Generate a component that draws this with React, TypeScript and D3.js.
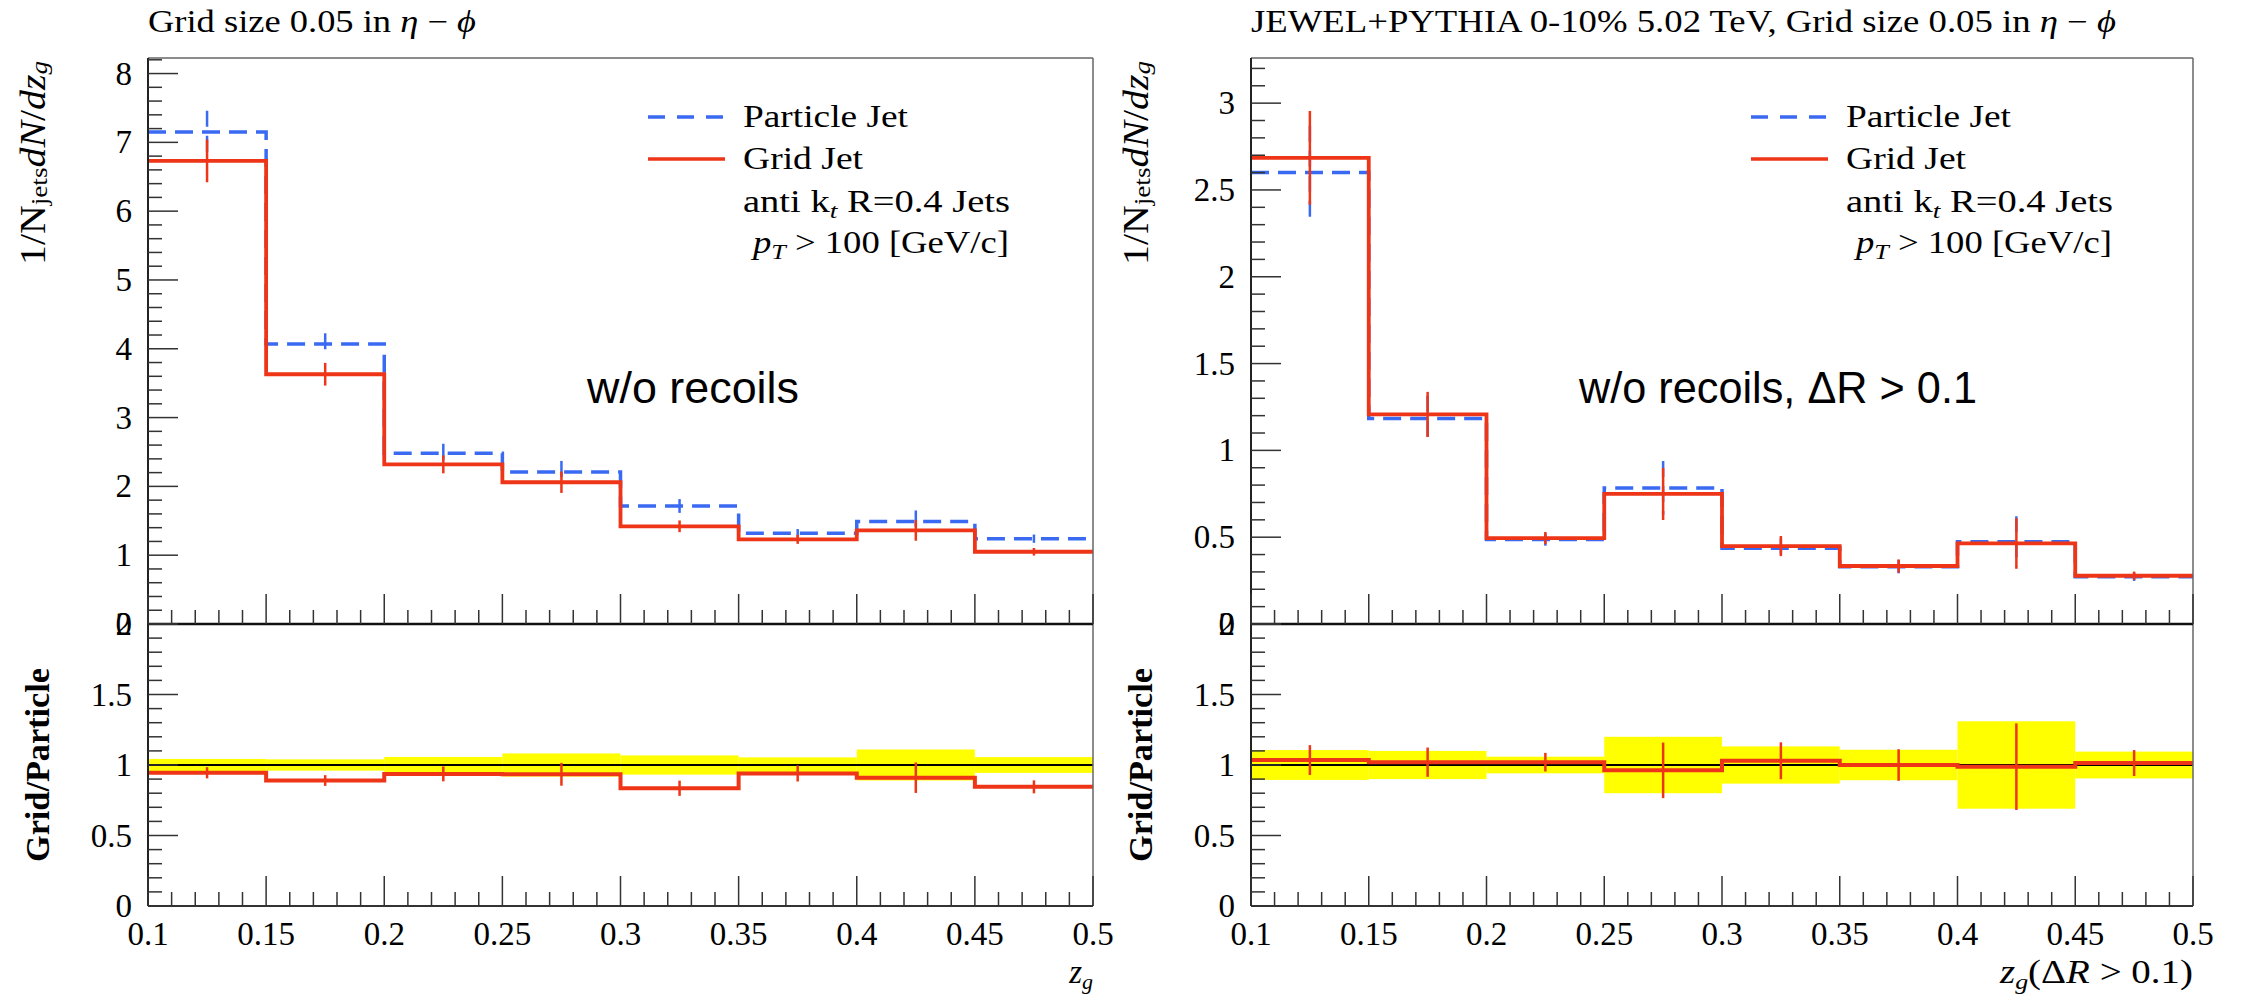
import React from 'react';
import * as d3 from 'd3';

// ---------- data ----------
const binEdges = [0.1, 0.15, 0.2, 0.25, 0.3, 0.35, 0.4, 0.45, 0.5];
const xTickLabels = ['0.1', '0.15', '0.2', '0.25', '0.3', '0.35', '0.4', '0.45', '0.5'];

const leftParticle = [7.15, 4.07, 2.48, 2.21, 1.715, 1.32, 1.49, 1.24];
const leftParticleErr = [0.31, 0.155, 0.14, 0.16, 0.1, 0.06, 0.16, 0.06];
const leftGrid = [6.73, 3.63, 2.32, 2.06, 1.42, 1.23, 1.36, 1.05];
const leftGridErr = [0.31, 0.165, 0.13, 0.155, 0.085, 0.065, 0.15, 0.055];
const leftRatio = [0.945, 0.89, 0.937, 0.934, 0.835, 0.94, 0.91, 0.845];
const leftRatioErr = [0.04, 0.038, 0.053, 0.081, 0.054, 0.057, 0.108, 0.046];
const leftBand = [0.043, 0.04, 0.057, 0.082, 0.068, 0.054, 0.11, 0.056];
const leftYTicks = ['0', '1', '2', '3', '4', '5', '6', '7', '8'];

const rightParticle = [2.6, 1.184, 0.486, 0.784, 0.436, 0.33, 0.474, 0.272];
const rightParticleErr = [0.27, 0.13, 0.035, 0.155, 0.058, 0.038, 0.146, 0.024];
const rightGrid = [2.685, 1.207, 0.495, 0.749, 0.449, 0.334, 0.464, 0.278];
const rightGridErr = [0.27, 0.13, 0.035, 0.15, 0.058, 0.038, 0.146, 0.024];
const rightRatio = [1.035, 1.02, 1.02, 0.962, 1.03, 1.0, 0.988, 1.014];
const rightRatioErr = [0.106, 0.104, 0.066, 0.197, 0.131, 0.112, 0.307, 0.092];
const rightBand = [0.106, 0.1, 0.059, 0.2, 0.132, 0.108, 0.31, 0.095];
const rightYTicks = ['0', '0.5', '1', '1.5', '2', '2.5', '3'];

const ratioYTicks = ['0', '0.5', '1', '1.5', '2'];

// ---------- style ----------
const BLUE = '#3a6af2';
const RED = '#ee3517';
const YELLOW = '#ffff00';
const SERIF = '"Liberation Serif", "Times New Roman", serif';
const SANS = '"Liberation Sans", Arial, sans-serif';

const Y_TOP = 58;
const Y_SPLIT = 624;
const Y_BOT = 906;

type PanelProps = {
  x0: number;
  x1: number;
  yMax: number;
  yMajor: number;
  yMinor: number;
  yTickLabels: string[];
  particle: number[];
  particleErr: number[];
  grid: number[];
  gridErr: number[];
  ratio: number[];
  ratioErr: number[];
  band: number[];
  title: React.ReactNode;
  titleLen: number;
  xTitle: React.ReactNode;
  xTitleLen?: number;
  note: string;
  noteX: number;
  noteLen: number;
};

function range(start: number, stop: number, step: number) {
  const out: number[] = [];
  const n = Math.floor((stop - start) / step + 1e-6);
  for (let i = 0; i <= n; i++) out.push(+(start + i * step).toFixed(6));
  return out;
}

function Panel(p: PanelProps) {
  const x = d3.scaleLinear().domain([0.1, 0.5]).range([p.x0, p.x1]);
  const yT = d3.scaleLinear().domain([0, p.yMax]).range([Y_SPLIT, Y_TOP]);
  const yR = d3.scaleLinear().domain([0, 2]).range([Y_BOT, Y_SPLIT]);

  const step = (ys: d3.ScaleLinear<number, number>, vals: number[]) =>
    d3
      .line<number>()
      .x((_, i) => x(binEdges[i]))
      .y((v) => ys(v))
      .curve(d3.curveStepAfter)([...vals, vals[vals.length - 1]]) || '';

  const centers = binEdges.slice(0, -1).map((e, i) => (e + binEdges[i + 1]) / 2);

  const yMajorTicks = range(0, p.yMax, p.yMajor);
  const yMinorTicks = range(0, p.yMax, p.yMinor).filter(
    (v) => Math.abs(v / p.yMajor - Math.round(v / p.yMajor)) > 1e-4
  );
  const rMajor = range(0, 2, 0.5);
  const rMinor = range(0, 2, 0.1).filter((v) => Math.abs(v / 0.5 - Math.round(v / 0.5)) > 1e-4);
  const xMajor = range(0.1, 0.5, 0.05);
  const xMinor = range(0.1, 0.5, 0.01).filter((v) => Math.abs(v / 0.05 - Math.round(v / 0.05)) > 1e-4);

  const tickCol = '#333';
  const MAJ = 30;
  const MIN = 14;
  const TF = 33;

  return (
    <g>
      {/* title */}
      <text x={p.x0} y={32} fontFamily={SERIF} fontSize={31} textLength={p.titleLen} lengthAdjust="spacingAndGlyphs">
        {p.title}
      </text>

      {/* ratio band */}
      {p.band.map((b, i) => (
        <rect
          key={'b' + i}
          x={x(binEdges[i])}
          width={x(binEdges[i + 1]) - x(binEdges[i])}
          y={yR(1 + b)}
          height={yR(1 - b) - yR(1 + b)}
          fill={YELLOW}
        />
      ))}
      <line x1={p.x0} x2={p.x1} y1={yR(1)} y2={yR(1)} stroke="#000" strokeWidth={2} />

      {/* top panel histograms */}
      <path d={step(yT, p.particle)} fill="none" stroke={BLUE} strokeWidth={3.5} strokeDasharray="18 9" />
      {centers.map((c, i) => (
        <line
          key={'pe' + i}
          x1={x(c)}
          x2={x(c)}
          y1={yT(p.particle[i] + p.particleErr[i])}
          y2={yT(p.particle[i] - p.particleErr[i])}
          stroke={BLUE}
          strokeWidth={2.5}
          strokeDasharray="16 9"
        />
      ))}
      <path d={step(yT, p.grid)} fill="none" stroke={RED} strokeWidth={3.8} />
      {centers.map((c, i) => (
        <line
          key={'ge' + i}
          x1={x(c)}
          x2={x(c)}
          y1={yT(p.grid[i] + p.gridErr[i])}
          y2={yT(p.grid[i] - p.gridErr[i])}
          stroke={RED}
          strokeWidth={2.5}
        />
      ))}

      {/* ratio */}
      <path d={step(yR, p.ratio)} fill="none" stroke={RED} strokeWidth={4} />
      {centers.map((c, i) => (
        <line
          key={'re' + i}
          x1={x(c)}
          x2={x(c)}
          y1={yR(p.ratio[i] + p.ratioErr[i])}
          y2={yR(p.ratio[i] - p.ratioErr[i])}
          stroke={RED}
          strokeWidth={2.5}
        />
      ))}

      {/* frames */}
      <line x1={p.x0} x2={p.x1} y1={Y_TOP} y2={Y_TOP} stroke="#666" strokeWidth={1.5} />
      <line x1={p.x1} x2={p.x1} y1={Y_TOP} y2={Y_BOT} stroke="#666" strokeWidth={1.5} />
      <line x1={p.x0} x2={p.x0} y1={Y_TOP} y2={Y_BOT} stroke="#222" strokeWidth={2} />
      <line x1={p.x0} x2={p.x1} y1={Y_SPLIT} y2={Y_SPLIT} stroke="#111" strokeWidth={2.5} />
      <line x1={p.x0} x2={p.x1} y1={Y_BOT} y2={Y_BOT} stroke="#333" strokeWidth={2} />

      {/* y ticks top */}
      {yMajorTicks.map((v, i) => (
        <g key={'ytm' + i}>
          <line x1={p.x0} x2={p.x0 + MAJ} y1={yT(v)} y2={yT(v)} stroke={tickCol} strokeWidth={1.5} />
          <text
            x={p.x0 - 16}
            y={yT(v)}
            textAnchor="end"
            dominantBaseline="central"
            fontFamily={SERIF}
            fontSize={TF}
          >
            {p.yTickLabels[i]}
          </text>
        </g>
      ))}
      {yMinorTicks.map((v, i) => (
        <line key={'ytn' + i} x1={p.x0} x2={p.x0 + MIN} y1={yT(v)} y2={yT(v)} stroke={tickCol} strokeWidth={1.5} />
      ))}

      {/* y ticks ratio */}
      {rMajor.map((v, i) => (
        <g key={'rm' + i}>
          <line x1={p.x0} x2={p.x0 + MAJ} y1={yR(v)} y2={yR(v)} stroke={tickCol} strokeWidth={1.5} />
          <text
            x={p.x0 - 16}
            y={yR(v)}
            textAnchor="end"
            dominantBaseline="central"
            fontFamily={SERIF}
            fontSize={TF}
          >
            {ratioYTicks[i]}
          </text>
        </g>
      ))}
      {rMinor.map((v, i) => (
        <line key={'rn' + i} x1={p.x0} x2={p.x0 + MIN} y1={yR(v)} y2={yR(v)} stroke={tickCol} strokeWidth={1.5} />
      ))}

      {/* x ticks */}
      {[Y_SPLIT, Y_BOT].map((yy) => (
        <g key={'xt' + yy}>
          {xMajor.map((v, i) => (
            <line key={'xm' + i} x1={x(v)} x2={x(v)} y1={yy} y2={yy - MAJ} stroke={tickCol} strokeWidth={1.5} />
          ))}
          {xMinor.map((v, i) => (
            <line key={'xn' + i} x1={x(v)} x2={x(v)} y1={yy} y2={yy - MIN} stroke={tickCol} strokeWidth={1.5} />
          ))}
        </g>
      ))}
      {xMajor.map((v, i) => (
        <text key={'xl' + i} x={x(v)} y={945} textAnchor="middle" fontFamily={SERIF} fontSize={TF}>
          {xTickLabels[i]}
        </text>
      ))}

      {/* axis titles */}
      <text
        x={p.x1}
        y={983}
        textAnchor="end"
        fontFamily={SERIF}
        fontSize={33}
        textLength={p.xTitleLen}
        lengthAdjust={p.xTitleLen ? 'spacingAndGlyphs' : undefined}
      >
        {p.xTitle}
      </text>
      <text
        transform={`translate(${p.x0 - 115},61) rotate(-90)`}
        textAnchor="end"
        dominantBaseline="central"
        fontFamily={SERIF}
        fontSize={35}
        textLength={204}
        lengthAdjust="spacingAndGlyphs"
      >
        <tspan>1/N</tspan>
        <tspan fontSize={24} dy={6}>jets</tspan>
        <tspan dy={-6} fontStyle="italic">dN</tspan>
        <tspan>/</tspan>
        <tspan fontStyle="italic">dz</tspan>
        <tspan fontSize={24} dy={6} fontStyle="italic">g</tspan>
      </text>
      <text
        transform={`translate(${p.x0 - 111},668) rotate(-90)`}
        textAnchor="end"
        dominantBaseline="central"
        fontFamily={SERIF}
        fontWeight="bold"
        fontSize={34}
        textLength={194}
        lengthAdjust="spacingAndGlyphs"
      >
        Grid/Particle
      </text>

      {/* legend */}
      <line x1={p.x0 + 500} x2={p.x0 + 577} y1={117} y2={117} stroke={BLUE} strokeWidth={3.5} strokeDasharray="17 12" />
      <line x1={p.x0 + 500} x2={p.x0 + 577} y1={159} y2={159} stroke={RED} strokeWidth={3.5} />
      <text x={p.x0 + 595} y={127} fontFamily={SERIF} fontSize={31} textLength={165} lengthAdjust="spacingAndGlyphs">
        Particle Jet
      </text>
      <text x={p.x0 + 595} y={169} fontFamily={SERIF} fontSize={31} textLength={120} lengthAdjust="spacingAndGlyphs">
        Grid Jet
      </text>
      <text x={p.x0 + 595} y={212} fontFamily={SERIF} fontSize={31} textLength={267} lengthAdjust="spacingAndGlyphs">
        anti k<tspan fontSize={22} dy={6} fontStyle="italic">t</tspan>
        <tspan dy={-6}> R=0.4 Jets</tspan>
      </text>
      <text x={p.x0 + 605} y={253} fontFamily={SERIF} fontSize={31} textLength={256} lengthAdjust="spacingAndGlyphs">
        <tspan fontStyle="italic">p</tspan>
        <tspan fontSize={22} dy={6} fontStyle="italic">T</tspan>
        <tspan dy={-6}> {'>'} 100 [GeV/c]</tspan>
      </text>

      {/* annotation */}
      <text x={p.noteX} y={403} fontFamily={SANS} fontSize={45} textLength={p.noteLen} lengthAdjust="spacingAndGlyphs">
        {p.note}
      </text>
    </g>
  );
}

export default function App() {
  return (
    <svg
      width={2244}
      height={994}
      viewBox="0 0 2244 994"
      style={{ position: 'absolute', left: 0, top: 0, background: '#fff' }}
    >
      <rect width={2244} height={994} fill="#fff" />
      <Panel
        x0={148}
        x1={1093}
        yMax={8.226}
        yMajor={1}
        yMinor={0.2}
        yTickLabels={leftYTicks}
        particle={leftParticle}
        particleErr={leftParticleErr}
        grid={leftGrid}
        gridErr={leftGridErr}
        ratio={leftRatio}
        ratioErr={leftRatioErr}
        band={leftBand}
        title={
          <>
            Grid size 0.05 in <tspan fontStyle="italic">η</tspan> − <tspan fontStyle="italic">ϕ</tspan>
          </>
        }
        titleLen={328}
        xTitle={
          <>
            <tspan fontStyle="italic">z</tspan>
            <tspan fontStyle="italic" fontSize={22} dy={6}>g</tspan>
          </>
        }
        note="w/o recoils"
        noteX={587}
        noteLen={212}
      />
      <Panel
        x0={1251}
        x1={2193}
        yMax={3.26}
        yMajor={0.5}
        yMinor={0.1}
        yTickLabels={rightYTicks}
        particle={rightParticle}
        particleErr={rightParticleErr}
        grid={rightGrid}
        gridErr={rightGridErr}
        ratio={rightRatio}
        ratioErr={rightRatioErr}
        band={rightBand}
        title={
          <>
            JEWEL+PYTHIA 0-10% 5.02 TeV, Grid size 0.05 in <tspan fontStyle="italic">η</tspan> −{' '}
            <tspan fontStyle="italic">ϕ</tspan>
          </>
        }
        titleLen={865}
        xTitle={
          <>
            <tspan fontStyle="italic">z</tspan>
            <tspan fontStyle="italic" fontSize={22} dy={6}>g</tspan>
            <tspan dy={-6}>(Δ</tspan>
            <tspan fontStyle="italic">R</tspan>
            <tspan> {'>'} 0.1)</tspan>
          </>
        }
        xTitleLen={193}
        note="w/o recoils, ΔR > 0.1"
        noteX={1579}
        noteLen={398}
      />
    </svg>
  );
}
